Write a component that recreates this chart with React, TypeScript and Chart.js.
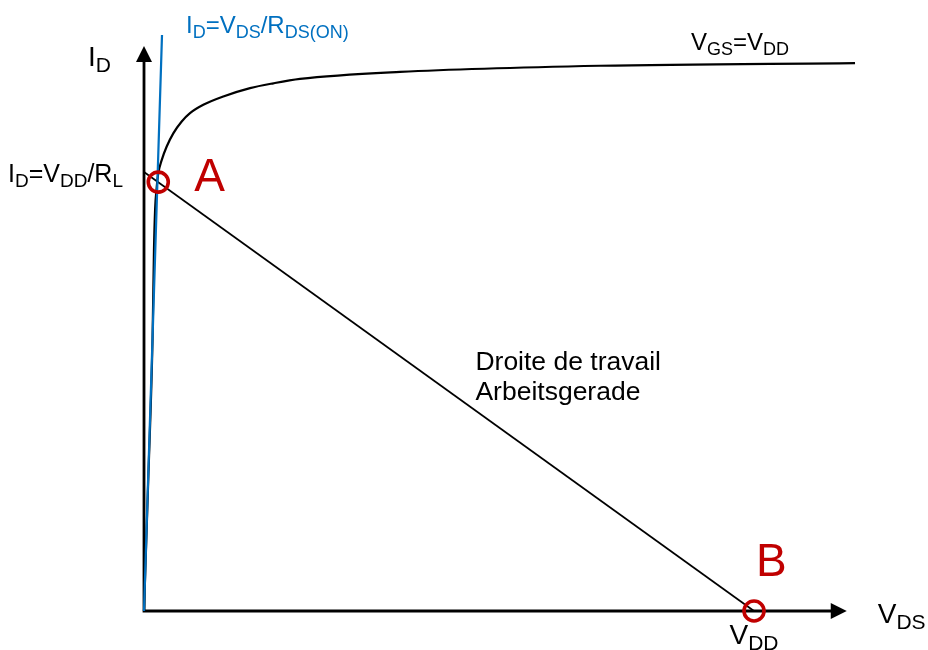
import React, { useEffect, useRef } from "react";
import { Chart, registerables } from "chart.js";

Chart.register(...registerables);

// Supply voltage (V_DS where the load line meets the axis) and normalised short-circuit current
const VDD = 10;
const ID_SHORT = 1;

// Output characteristic for V_GS = V_DD  [V_DS, I_D]
const outputVds = [0, 0.07, 0.14, 0.163, 0.182, 0.208, 0.234, 0.29, 0.372, 0.48, 0.618, 0.754, 0.972, 1.3, 1.738, 2.12, 2.557, 4.197, 7.475, 11.656];
const outputId = [0, 0.3, 0.62, 0.82, 0.915, 0.965, 0.997, 1.027, 1.058, 1.088, 1.115, 1.134, 1.153, 1.172, 1.191, 1.202, 1.212, 1.228, 1.242, 1.248];

// Ohmic region line I_D = V_DS / R_DS(on)
const ohmicVds = [0, 0.295];
const ohmicId = [0, 1.312];

// Load line end points
const loadVds = [0, VDD];
const loadId = [ID_SHORT, 0];

// Operating points A (switch on) and B (switch off)
const opNames = ["A", "B"];
const opVds = [0.234, VDD];
const opId = [0.977, 0];

// Axis extents (arrow tips)
const axisXEnd = 11.52;
const axisYEnd = 1.287;

// Visible window of the diagram
const xRange = [-2.3607, 12.852];
const yRange = [-0.0888, 1.3918];

type Part = { t: string; sub?: boolean };
const labelAxisY: Part[] = [{ t: "I" }, { t: "D", sub: true }];
const labelAxisX: Part[] = [{ t: "V" }, { t: "DS", sub: true }];
const labelOhmic: Part[] = [
  { t: "I" }, { t: "D", sub: true }, { t: "=V" }, { t: "DS", sub: true }, { t: "/R" }, { t: "DS(ON)", sub: true },
];
const labelCurve: Part[] = [{ t: "V" }, { t: "GS", sub: true }, { t: "=V" }, { t: "DD", sub: true }];
const labelShort: Part[] = [
  { t: "I" }, { t: "D", sub: true }, { t: "=V" }, { t: "DD", sub: true }, { t: "/R" }, { t: "L", sub: true },
];
const labelVdd: Part[] = [{ t: "V" }, { t: "DD", sub: true }];
const loadCaption = ["Droite de travail", "Arbeitsgerade"];

const FONT = '"Liberation Sans", Arial, sans-serif';
const RED = "#C00000";
const BLUE = "#0070C0";

const pts = (xs: number[], ys: number[]) => xs.map((x, i) => ({ x, y: ys[i] }));

function richWidth(ctx: CanvasRenderingContext2D, parts: Part[], main: number, sub: number) {
  let w = 0;
  for (const p of parts) {
    ctx.font = `${p.sub ? sub : main}px ${FONT}`;
    w += ctx.measureText(p.t).width;
  }
  return w;
}

function drawRich(
  ctx: CanvasRenderingContext2D,
  parts: Part[],
  x: number,
  y: number,
  color: string,
  main = 24,
  sub = 18,
  align = "left"
) {
  let cx = align === "center" ? x - richWidth(ctx, parts, main, sub) / 2 : x;
  const shift = Math.round(main * 0.21);
  ctx.fillStyle = color;
  ctx.textAlign = "left";
  ctx.textBaseline = "alphabetic";
  for (const p of parts) {
    ctx.font = `${p.sub ? sub : main}px ${FONT}`;
    ctx.fillText(p.t, cx, p.sub ? y + shift : y);
    cx += ctx.measureText(p.t).width;
  }
}

const diagramPlugin = {
  id: "diagram",
  beforeDatasetsDraw(chart: any) {
    const { ctx, scales } = chart;
    const px = (v: number) => scales.x.getPixelForValue(v);
    const py = (v: number) => scales.y.getPixelForValue(v);
    const ox = px(0);
    const oy = py(0);
    const tx = px(axisXEnd);
    const ty = py(axisYEnd);
    const len = 16;
    const half = 8;
    ctx.save();
    ctx.strokeStyle = "#000";
    ctx.fillStyle = "#000";
    ctx.lineWidth = 2.8;
    ctx.lineCap = "butt";
    ctx.beginPath();
    ctx.moveTo(ox - 1.4, oy);
    ctx.lineTo(tx - len + 1, oy);
    ctx.moveTo(ox, oy + 1.4);
    ctx.lineTo(ox, ty + len - 1);
    ctx.stroke();
    ctx.beginPath();
    ctx.moveTo(tx, oy);
    ctx.lineTo(tx - len, oy - half);
    ctx.lineTo(tx - len, oy + half);
    ctx.closePath();
    ctx.fill();
    ctx.beginPath();
    ctx.moveTo(ox, ty);
    ctx.lineTo(ox - half, ty + len);
    ctx.lineTo(ox + half, ty + len);
    ctx.closePath();
    ctx.fill();
    ctx.restore();
  },
  afterDatasetsDraw(chart: any) {
    const { ctx, scales } = chart;
    const px = (v: number) => scales.x.getPixelForValue(v);
    const py = (v: number) => scales.y.getPixelForValue(v);
    ctx.save();
    drawRich(ctx, labelAxisY, px(0) - 56, py(axisYEnd) + 20, "#000", 28, 21);
    drawRich(ctx, labelAxisX, px(axisXEnd) + 31, py(0) + 12, "#000", 28, 21);
    drawRich(ctx, labelOhmic, px(ohmicVds[1]) + 24, py(ohmicId[1]) - 2, BLUE, 24, 18);
    const last = outputVds.length - 1;
    drawRich(ctx, labelCurve, px(outputVds[last]) - 164, py(outputId[last]) - 13, "#000", 24, 18);
    drawRich(ctx, labelShort, 8, py(ID_SHORT) + 10, "#000", 25, 19);
    drawRich(ctx, labelVdd, px(VDD), py(0) + 33, "#000", 28, 21, "center");

    ctx.font = `46px ${FONT}`;
    ctx.fillStyle = RED;
    ctx.textAlign = "left";
    ctx.fillText(opNames[0], px(opVds[0]) + 36, py(opId[0]) + 9);
    ctx.fillText(opNames[1], px(opVds[1]) + 2, py(opId[1]) - 35);

    ctx.font = `26.5px ${FONT}`;
    ctx.fillStyle = "#000";
    const cx = 5.4;
    const cy = ID_SHORT * (1 - cx / VDD);
    loadCaption.forEach((line, i) => {
      ctx.fillText(line, px(cx) + 2, py(cy) - 39 + i * 30);
    });
    ctx.restore();
  },
};

export default function App() {
  const ref = useRef<HTMLCanvasElement | null>(null);

  useEffect(() => {
    if (!ref.current) return;
    const chart = new Chart(ref.current, {
      type: "scatter",
      data: {
        datasets: [
          {
            label: "Operating points",
            data: pts(opVds, opId),
            showLine: false,
            pointStyle: "circle",
            pointRadius: 10,
            pointHoverRadius: 10,
            pointBorderWidth: 3.6,
            pointBorderColor: RED,
            pointBackgroundColor: "rgba(0,0,0,0)",
          },
          {
            label: "R_DS(on)",
            data: pts(ohmicVds, ohmicId),
            showLine: true,
            borderColor: BLUE,
            borderWidth: 2.2,
            pointRadius: 0,
          },
          {
            label: "V_GS = V_DD",
            data: pts(outputVds, outputId),
            showLine: true,
            borderColor: "#000",
            borderWidth: 2.2,
            pointRadius: 0,
            cubicInterpolationMode: "monotone",
          },
          {
            label: "Load line",
            data: pts(loadVds, loadId),
            showLine: true,
            borderColor: "#000",
            borderWidth: 1.7,
            pointRadius: 0,
          },
        ],
      },
      options: {
        animation: false,
        responsive: false,
        devicePixelRatio: 1,
        layout: { padding: 0, autoPadding: false },
        plugins: { legend: { display: false }, tooltip: { enabled: false } },
        events: [],
        scales: {
          x: { type: "linear", min: xRange[0], max: xRange[1], display: false },
          y: { type: "linear", min: yRange[0], max: yRange[1], display: false },
        },
      },
      plugins: [diagramPlugin],
    });
    return () => chart.destroy();
  }, []);

  return (
    <div style={{ position: "fixed", left: 0, top: 0, width: 928, height: 650, background: "#fff" }}>
      <canvas ref={ref} width={928} height={650} />
    </div>
  );
}
